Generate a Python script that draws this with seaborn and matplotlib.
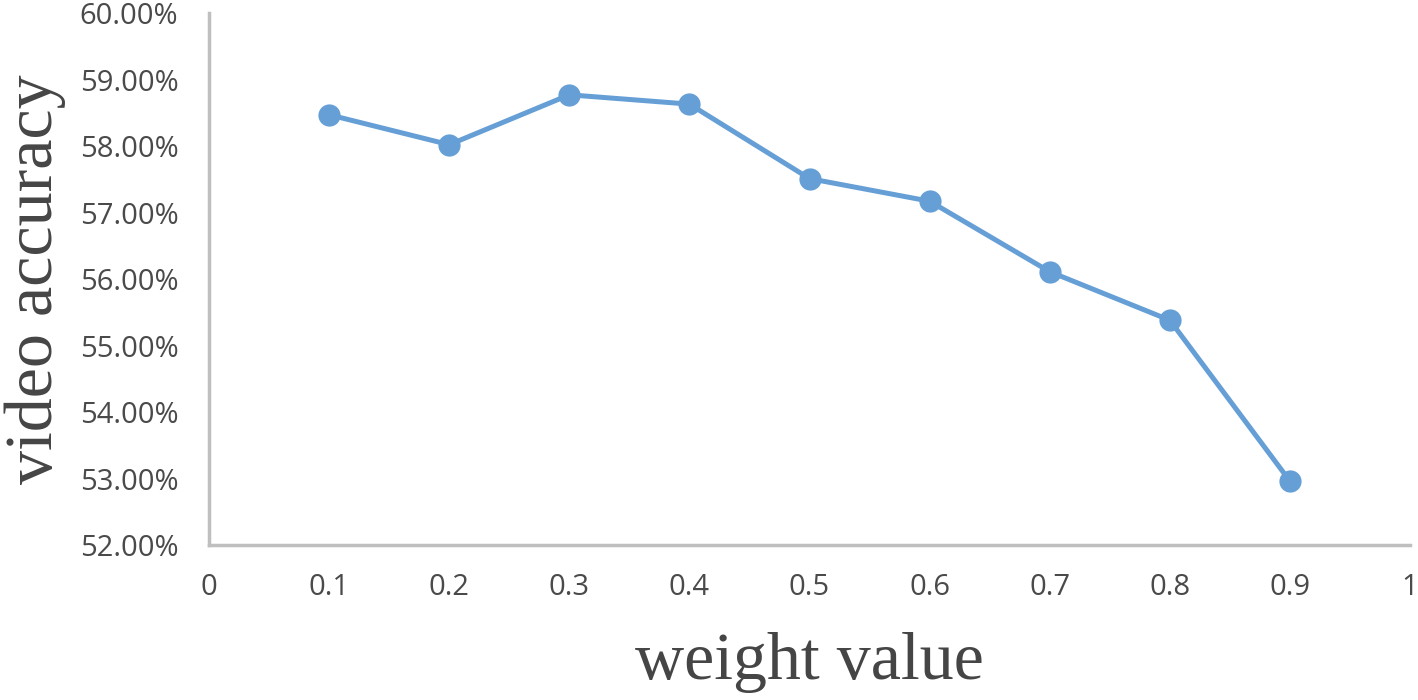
import matplotlib
matplotlib.use("Agg")
import matplotlib.pyplot as plt
import seaborn as sns
import pandas as pd
from matplotlib.ticker import FuncFormatter

weights = [0.1, 0.2, 0.3, 0.4, 0.5, 0.6, 0.7, 0.8, 0.9]
accuracy = [58.47, 58.02, 58.77, 58.63, 57.51, 57.17, 56.11, 55.38, 52.96]
x_ticks = [0, 0.1, 0.2, 0.3, 0.4, 0.5, 0.6, 0.7, 0.8, 0.9, 1]
x_tick_labels = ["0", "0.1", "0.2", "0.3", "0.4", "0.5", "0.6", "0.7", "0.8", "0.9", "1"]
y_ticks = [52, 53, 54, 55, 56, 57, 58, 59, 60]

df = pd.DataFrame({"weight": weights, "acc": accuracy})

sns.set_style("white")
fig = plt.figure(figsize=(14.18, 7.0), dpi=100)
ax = fig.add_axes([0.1474, 0.2214, 0.8470, 0.7600])

line_color = "#659FD6"
sns.lineplot(data=df, x="weight", y="acc", ax=ax, color=line_color, linewidth=3.6,
             marker="o", markersize=16, markeredgewidth=0, markerfacecolor=line_color)

ax.set_xlim(0, 1)
ax.set_ylim(52, 60)
ax.set_xticks(x_ticks)
ax.set_xticklabels(x_tick_labels)
ax.set_yticks(y_ticks)
ax.yaxis.set_major_formatter(FuncFormatter(lambda v, p: f"{v:.2f}%"))

for lab in ax.get_xticklabels() + ax.get_yticklabels():
    lab.set_fontfamily("Open Sans")
    lab.set_fontsize(21)
    lab.set_color("#4A4A4A")
ax.tick_params(axis="both", length=0)
ax.tick_params(axis="x", pad=20)
ax.tick_params(axis="y", pad=22)

for s in ["top", "right"]:
    ax.spines[s].set_visible(False)
for s in ["left", "bottom"]:
    ax.spines[s].set_color("#BFBFBF")
    ax.spines[s].set_linewidth(2.5)

ax.set_xlabel("weight value", fontfamily="Liberation Serif", fontsize=49, color="#454545", labelpad=22)
ax.set_ylabel("video accuracy", fontfamily="Liberation Serif", fontsize=49, color="#454545", labelpad=10)
ax.grid(False)

fig.savefig("out.png", dpi=100)
